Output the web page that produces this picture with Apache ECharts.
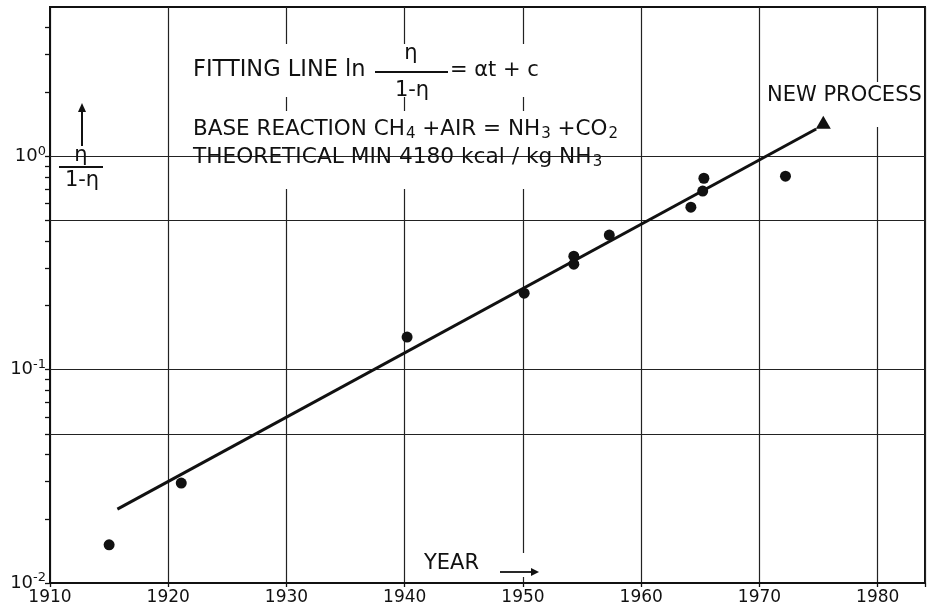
<!DOCTYPE html>
<html>
<head>
<meta charset="utf-8">
<script src="https://cdn.jsdelivr.net/npm/echarts@6/dist/echarts.min.js"></script>
<style>
  html, body { margin: 0; padding: 0; background: #fff; }
  #chart { width: 933px; height: 610px; }
</style>
</head>
<body>
<div id="chart"></div>
<script>
// Plant efficiency ratio η/(1-η) against year of start-up
const years  = [1915.0, 1921.1, 1940.2, 1950.1, 1954.3, 1954.3, 1957.3, 1964.2, 1965.2, 1965.3, 1972.2];
const ratios = [0.0151, 0.0294, 0.142, 0.228, 0.340, 0.312, 0.427, 0.577, 0.686, 0.788, 0.806];

// The new process
const newProcessYears  = [1975.4];
const newProcessRatios = [1.44];

// Fitting line ln(η/(1-η)) = αt + c, drawn between its two end points
const fitYears  = [1915.7, 1974.8];
const fitRatios = [0.0222, 1.34];

// Horizontal rulings and axis ticks
const rulingLevels = [0.05, 0.1, 0.5, 1];
const yLabelValues = [0.01, 0.1, 1];
const yTickValues  = [0.01, 0.02, 0.03, 0.04, 0.05, 0.06, 0.07, 0.08, 0.09,
                      0.1, 0.2, 0.3, 0.4, 0.5, 0.6, 0.7, 0.8, 0.9,
                      1, 2, 3, 4];
const xLabelValues = [1910, 1920, 1930, 1940, 1950, 1960, 1970, 1980];

const FONT = 'DejaVu Sans';
const INK = '#111';

const pair = (xs, ys) => xs.map((x, i) => [x, ys[i]]);

const chart = echarts.init(document.getElementById('chart'), null, { renderer: 'canvas' });

// white patches behind the lettering, so the rulings break around it
const patch = (x, y, w, h) => ({
  type: 'rect', z: 2, silent: true,
  shape: { x, y, width: w, height: h },
  style: { fill: '#fff' }
});
const txt = (x, y, text, size, extra) => ({
  type: 'text', z: 10, silent: true, x, y,
  style: Object.assign({
    text, font: `${size}px "${FONT}"`, fill: INK,
    textAlign: 'left', textVerticalAlign: 'middle'
  }, extra || {})
});
const subRich = {
  sub: { fontFamily: FONT, fontSize: 15, fill: INK, color: INK, padding: [10, 0, 0, 1] }
};

const option = {
  animation: false,
  backgroundColor: '#fff',
  grid: { left: 50, right: 8, top: 7, bottom: 27, show: true, borderColor: INK, borderWidth: 2 },
  xAxis: {
    type: 'value', min: 1910, max: 1984, interval: 10,
    axisLine: { show: true, lineStyle: { color: INK, width: 2 } },
    axisTick: { show: true, length: 4, lineStyle: { color: INK, width: 1.3 } },
    splitLine: { show: true, lineStyle: { color: '#222', width: 1.2 } },
    axisLabel: {
      color: INK, fontFamily: FONT, fontSize: 17, margin: 6,
      customValues: xLabelValues,
      formatter: v => String(v)
    }
  },
  yAxis: {
    type: 'log', logBase: 10, min: 0.01, max: 5,
    axisLine: { show: true, lineStyle: { color: INK, width: 2 } },
    axisTick: { show: true, length: 5, customValues: yTickValues, lineStyle: { color: INK, width: 1.3 } },
    splitLine: { show: false },
    minorTick: { show: false },
    axisLabel: {
      customValues: yLabelValues,
      margin: 4,
      formatter: v => `{b|10}{s|${Math.round(Math.log10(v))}}`,
      rich: {
        b: { fontFamily: FONT, fontSize: 18, color: INK },
        s: { fontFamily: FONT, fontSize: 13, color: INK, padding: [0, 0, 10, 0] }
      }
    }
  },
  series: [
    {
      // horizontal rulings
      type: 'line', z: 1, data: [], silent: true,
      markLine: {
        silent: true, symbol: 'none', animation: false,
        label: { show: false },
        lineStyle: { type: 'solid', color: '#222', width: 1.2 },
        data: rulingLevels.map(v => ({ yAxis: v }))
      }
    },
    {
      type: 'line', z: 5, data: pair(fitYears, fitRatios),
      symbol: 'none', lineStyle: { color: INK, width: 3 }
    },
    {
      type: 'scatter', z: 6, data: pair(years, ratios),
      symbol: 'circle', symbolSize: 11, itemStyle: { color: INK, opacity: 1 }
    },
    {
      type: 'scatter', z: 6, data: pair(newProcessYears, newProcessRatios),
      symbol: 'triangle', symbolSize: [15, 13], itemStyle: { color: INK, opacity: 1 }
    }
  ],
  graphic: {
    elements: [
      patch(188, 44, 372, 53),
      patch(188, 111, 434, 78),
      patch(57, 147, 42, 46),
      patch(764, 82, 158, 45),
      patch(420, 553, 122, 24),

      // fitting line formula
      txt(193, 70, 'FITTING LINE ln', 22.5),
      txt(411, 54, 'η', 21, { textAlign: 'center' }),
      { type: 'line', z: 10, silent: true, shape: { x1: 375, y1: 72, x2: 448, y2: 72 }, style: { stroke: INK, lineWidth: 1.8 } },
      txt(412, 91, '1-η', 21, { textAlign: 'center' }),
      txt(450, 71, '= αt + c', 21),

      // reaction and theoretical minimum
      txt(193, 129, 'BASE REACTION CH{sub|4} +AIR = NH{sub|3} +CO{sub|2}', 21.5, { rich: subRich }),
      txt(193, 157, 'THEORETICAL MIN 4180 kcal / kg NH{sub|3}', 21.7, { rich: subRich }),

      // axis quantity at the left
      { type: 'line', z: 10, silent: true, shape: { x1: 82, y1: 146, x2: 82, y2: 110 }, style: { stroke: INK, lineWidth: 2 } },
      { type: 'polygon', z: 10, silent: true, shape: { points: [[82, 103], [78, 112], [86, 112]] }, style: { fill: INK } },
      txt(81, 156, 'η', 21, { textAlign: 'center' }),
      { type: 'line', z: 10, silent: true, shape: { x1: 59, y1: 167, x2: 103, y2: 167 }, style: { stroke: INK, lineWidth: 1.8 } },
      txt(82, 181, '1-η', 21, { textAlign: 'center' }),

      // new process
      txt(767, 96, 'NEW PROCESS', 21),

      // year arrow
      txt(424, 564, 'YEAR', 21),
      { type: 'line', z: 10, silent: true, shape: { x1: 500, y1: 572, x2: 532, y2: 572 }, style: { stroke: INK, lineWidth: 1.8 } },
      { type: 'polygon', z: 10, silent: true, shape: { points: [[539, 572], [531, 568], [531, 576]] }, style: { fill: INK } }
    ]
  }
};

chart.setOption(option);
</script>
</body>
</html>
